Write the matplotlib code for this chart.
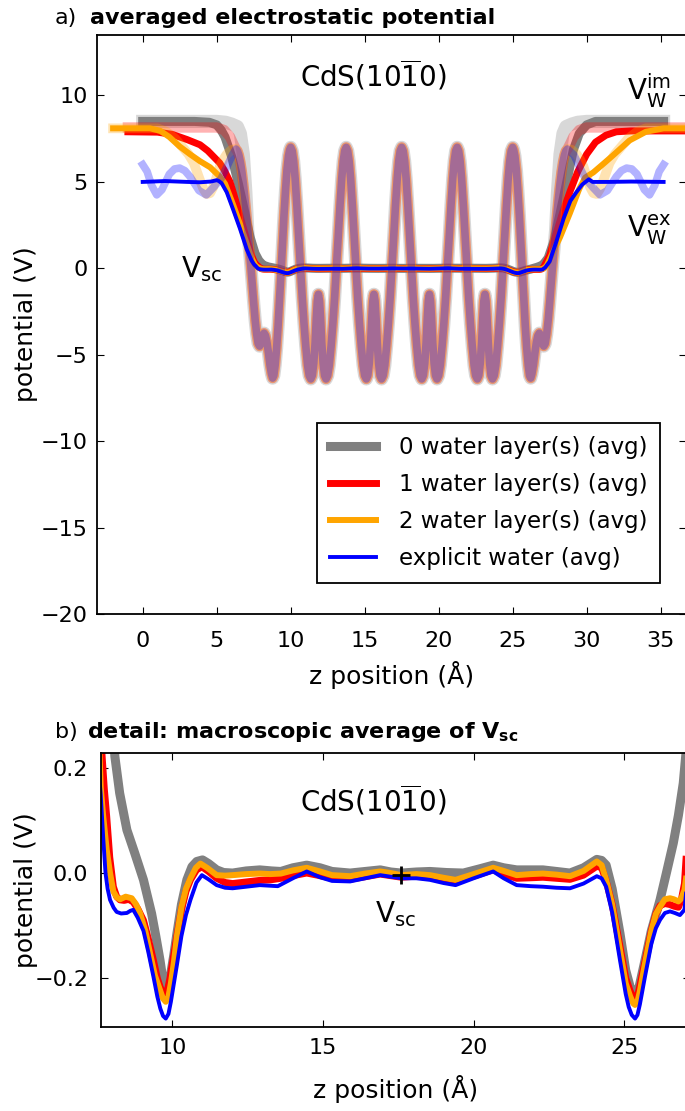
import numpy as np
import matplotlib.pyplot as plt

plt.rcParams['font.family'] = ['DejaVu Sans']
plt.rcParams['mathtext.fontset'] = 'dejavusans'
plt.rcParams['xtick.direction'] = 'in'
plt.rcParams['ytick.direction'] = 'in'
plt.rcParams['xtick.top'] = True
plt.rcParams['ytick.right'] = True
plt.rcParams['xtick.major.size'] = 5
plt.rcParams['ytick.major.size'] = 5
plt.rcParams['axes.linewidth'] = 1.3

# --- planar averaged potential inside the slab (same for all setups) ---
slab_z = [6.30, 6.40, 6.50, 6.60, 6.70, 6.80, 6.90, 7.00, 7.10, 7.20, 7.30, 7.40, 7.50, 7.60,
          7.70, 7.80, 7.90, 8.00, 8.10, 8.20, 8.30, 8.40, 8.50, 8.60, 8.70, 8.78, 8.86, 8.95,
          9.05, 9.15, 9.25, 9.35, 9.45, 9.55, 9.65, 9.75, 9.85, 9.93,
          10.00, 10.10, 10.20, 10.30, 10.42, 10.54, 10.66, 10.78, 10.90, 11.02, 11.14, 11.25,
          11.36, 11.46, 11.56, 11.65, 11.73, 11.80, 11.875, 11.95, 12.02, 12.10, 12.19, 12.29,
          12.39, 12.50, 12.61, 12.73, 12.85, 12.97, 13.09, 13.21, 13.33, 13.45, 13.55, 13.65,
          13.75, 13.85, 13.95, 14.05, 14.17, 14.29, 14.41, 14.53, 14.65, 14.77, 14.89, 15.00,
          15.11, 15.21, 15.31, 15.40, 15.48, 15.55, 15.625, 15.70, 15.77, 15.85, 15.94, 16.04,
          16.14, 16.25, 16.36, 16.48, 16.60, 16.72, 16.84, 16.96, 17.08, 17.20, 17.30, 17.40,
          17.50, 17.60, 17.70, 17.80, 17.92, 18.04, 18.16, 18.28, 18.40, 18.52, 18.64, 18.75,
          18.86, 18.96, 19.06, 19.15, 19.23, 19.30, 19.375, 19.45, 19.52, 19.60, 19.69, 19.79,
          19.89, 20.00, 20.11, 20.23, 20.35, 20.47, 20.59, 20.71, 20.83, 20.95, 21.05, 21.15,
          21.25, 21.35, 21.45, 21.55, 21.67, 21.79, 21.91, 22.03, 22.15, 22.27, 22.39, 22.50,
          22.61, 22.71, 22.81, 22.90, 22.98, 23.05, 23.125, 23.20, 23.27, 23.35, 23.44, 23.54,
          23.64, 23.75, 23.86, 23.98, 24.10, 24.22, 24.34, 24.46, 24.58, 24.70, 24.80, 24.90,
          25.00, 25.07, 25.15, 25.25, 25.35, 25.45, 25.55, 25.65, 25.75, 25.85, 25.95, 26.05,
          26.14, 26.22, 26.30, 26.40, 26.50, 26.60, 26.70, 26.80, 26.90, 27.00, 27.10, 27.20,
          27.30, 27.40, 27.50, 27.60, 27.70, 27.80, 27.90, 28.00, 28.10, 28.20, 28.30, 28.40,
          28.50, 28.60, 28.70]
slab_v = [6.9, 6.8, 6.55, 6.15, 5.6, 4.9, 4.1, 3.2, 2.2, 1.2, 0.2, -0.9, -2.0, -3.0,
          -3.8, -4.35, -4.5, -4.3, -3.9, -3.75, -3.9, -4.3, -4.9, -5.6, -6.1, -6.35, -6.2, -5.6,
          -4.6, -3.3, -1.8, -0.2, 1.5, 3.1, 4.5, 5.7, 6.5, 6.85,
          7.0, 6.8, 6.2, 5.2, 3.6, 1.8, 0.0, -1.7, -3.2, -4.5, -5.6, -6.2,
          -6.4, -6.2, -5.5, -4.3, -2.9, -1.9, -1.5, -1.9, -2.9, -4.3, -5.5, -6.2,
          -6.4, -6.2, -5.6, -4.5, -3.2, -1.7, 0.0, 1.8, 3.6, 5.2, 6.2, 6.8,
          7.0, 6.8, 6.2, 5.2, 3.6, 1.8, 0.0, -1.7, -3.2, -4.5, -5.6, -6.2,
          -6.4, -6.2, -5.5, -4.3, -2.9, -1.9, -1.5, -1.9, -2.9, -4.3, -5.5, -6.2,
          -6.4, -6.2, -5.6, -4.5, -3.2, -1.7, 0.0, 1.8, 3.6, 5.2, 6.2, 6.8,
          7.0, 6.8, 6.2, 5.2, 3.6, 1.8, 0.0, -1.7, -3.2, -4.5, -5.6, -6.2,
          -6.4, -6.2, -5.5, -4.3, -2.9, -1.9, -1.5, -1.9, -2.9, -4.3, -5.5, -6.2,
          -6.4, -6.2, -5.6, -4.5, -3.2, -1.7, 0.0, 1.8, 3.6, 5.2, 6.2, 6.8,
          7.0, 6.8, 6.2, 5.2, 3.6, 1.8, 0.0, -1.7, -3.2, -4.5, -5.6, -6.2,
          -6.4, -6.2, -5.5, -4.3, -2.9, -1.9, -1.5, -1.9, -2.9, -4.3, -5.5, -6.2,
          -6.4, -6.2, -5.6, -4.5, -3.2, -1.7, 0.0, 1.8, 3.6, 5.2, 6.2, 6.8,
          7.0, 6.85, 6.5, 5.7, 4.5, 3.1, 1.5, -0.2, -1.8, -3.3, -4.6, -5.6,
          -6.2, -6.35, -6.1, -5.6, -4.9, -4.3, -3.9, -3.75, -3.9, -4.3, -4.5, -4.35,
          -3.8, -3.0, -2.0, -0.9, 0.2, 1.2, 2.2, 3.2, 4.1, 4.9, 5.6, 6.15,
          6.55, 6.8, 6.9]

# --- planar averaged potential outside the slab (vacuum / water side) ---
raw0_left_z = [0.0, 5.0, 5.6, 6.0, 6.4, 6.6, 6.8, 6.97]
raw0_left_v = [8.5, 8.5, 8.45, 8.35, 8.2, 7.8, 6.6, 4.4]
raw0_right_z = [28.03, 28.2, 28.4, 28.6, 29.0, 29.4, 30.0, 35.2]
raw0_right_v = [4.4, 6.6, 7.8, 8.2, 8.35, 8.45, 8.5, 8.5]

raw1_left_z = [-1.0, 5.0, 5.5, 5.9, 6.12]
raw1_left_v = [8.15, 8.15, 8.0, 7.6, 7.2]
raw1_right_z = [28.88, 29.1, 29.5, 30.0, 37.0]
raw1_right_v = [7.2, 7.6, 8.0, 8.15, 8.15]

raw2_left_z = [-2.0, 1.0, 1.6, 2.2, 2.7, 3.1, 3.45, 3.87, 4.1, 4.32, 4.55, 4.77, 5.0, 5.22, 5.45,
               5.68, 6.0]
raw2_left_v = [8.1, 8.1, 7.9, 7.5, 7.0, 6.6, 6.1, 5.1, 4.6, 4.3, 4.35, 4.7, 5.3, 5.9, 6.3,
               6.6, 6.85]
raw2_right_z = [29.0, 29.32, 29.55, 29.78, 30.0, 30.23, 30.45, 30.68, 30.9, 31.13, 31.55, 31.9,
                32.3, 32.8, 33.4, 34.0, 37.0]
raw2_right_v = [6.85, 6.6, 6.3, 5.9, 5.3, 4.7, 4.35, 4.3, 4.6, 5.1, 6.1, 6.6,
                7.0, 7.5, 7.9, 8.1, 8.1]

rawx_left_z = [0.0, 0.3, 0.6, 0.95, 1.3, 1.8, 2.15, 2.5, 2.85, 3.2, 3.8, 4.3, 4.8, 5.3, 5.7, 6.05]
rawx_left_v = [6.0, 5.6, 4.8, 4.25, 4.55, 5.45, 5.75, 5.8, 5.65, 5.3, 4.5, 4.25, 4.7, 5.2, 5.9,
               6.55]
rawx_right_z = [29.15, 29.5, 29.9, 30.4, 30.9, 31.4, 32.0, 32.35, 32.7, 33.05, 33.4, 33.9, 34.25,
                34.6, 34.9, 35.2]
rawx_right_v = [6.55, 5.9, 5.2, 4.7, 4.25, 4.5, 5.3, 5.65, 5.8, 5.75, 5.45, 4.55, 4.25,
                4.8, 5.6, 6.0]

# --- macroscopic averages ---
avg0_z = [0.0, 3.5, 4.5, 5.0, 5.3, 5.56, 6.01, 6.46, 6.91, 7.25, 7.59, 7.85, 8.09, 8.25, 8.49,
          8.75, 9.04, 9.31, 9.45, 9.59, 9.69, 9.78, 9.87, 9.95, 10.05, 10.15, 10.3, 10.48, 10.65,
          10.81, 11.0, 11.2, 11.47, 11.7, 12.0, 12.45, 12.9, 13.3, 13.6, 14.0, 14.46, 14.9, 15.3,
          15.9, 16.4, 16.9, 17.25, 17.6, 18.1, 18.55, 19.1, 19.66, 20.2, 20.65, 21.0, 21.43, 22.3,
          22.75, 23.2, 23.65, 24.09, 24.25, 24.4, 24.6, 24.86, 25.05, 25.2, 25.36, 25.5, 25.69,
          25.9, 26.19, 26.4, 26.63, 26.8, 26.96, 27.1, 27.4, 27.8, 28.4, 29.1, 29.5, 30.0, 30.6,
          35.2]
avg0_v = [8.5, 8.5, 8.45, 8.3, 8.0, 7.6, 6.46, 4.92, 3.18, 1.83, 0.87, 0.45, 0.222, 0.152, 0.082,
          0.038, -0.013, -0.077, -0.12, -0.166, -0.205, -0.222, -0.21, -0.19, -0.155, -0.115,
          -0.06, -0.013, 0.012, 0.022, 0.025, 0.018, 0.006, 0.001, 0.0, 0.004, 0.006, 0.004, 0.003,
          0.01, 0.015, 0.01, 0.003, 0.0, 0.003, 0.006, 0.002, 0.0, 0.002, 0.003, 0.001, 0.0, 0.008,
          0.015, 0.01, 0.006, 0.006, 0.003, 0.0, 0.01, 0.026, 0.024, 0.015, -0.03, -0.115, -0.185,
          -0.217, -0.235, -0.215, -0.166, -0.11, -0.051, 0.0, 0.057, 0.11, 0.171, 0.26, 0.6, 1.6,
          3.95, 6.85, 7.8, 8.3, 8.5, 8.5]

avg1_z = [-1.0, 1.0, 2.0, 3.0, 3.87, 4.4, 4.8, 5.2, 5.5, 5.9, 6.15, 6.57, 7.03, 7.35, 7.55, 7.66,
          7.74, 7.82, 7.92, 8.04, 8.15, 8.26, 8.4, 8.55, 8.7, 8.85, 9.04, 9.2, 9.37, 9.5, 9.6,
          9.68, 9.76, 9.84, 9.92, 10.02, 10.15, 10.3, 10.45, 10.6, 10.8, 10.98, 11.2, 11.47, 11.75,
          12.0, 12.45, 12.9, 13.25, 13.6, 14.0, 14.46, 14.9, 15.3, 15.9, 16.4, 16.9, 17.25, 17.6,
          18.1, 18.55, 19.0, 19.4, 20.0, 20.65, 21.0, 21.43, 21.9, 22.3, 22.75, 23.2, 23.65, 24.09,
          24.25, 24.4, 24.6, 24.86, 25.05, 25.2, 25.3, 25.36, 25.44, 25.52, 25.69, 25.9, 26.05,
          26.19, 26.35, 26.52, 26.65, 26.8, 26.9, 27.0, 27.1, 27.2, 27.5, 27.9, 28.4, 28.9, 29.4,
          30.0, 30.6, 31.3, 32.0, 33.0, 37.0]
avg1_v = [7.9, 7.88, 7.75, 7.45, 7.15, 6.8, 6.45, 6.1, 5.7, 5.0, 4.3, 3.05, 1.65, 0.75, 0.35, 0.228,
          0.16, 0.107, 0.03, -0.026, -0.045, -0.051, -0.052, -0.05, -0.055, -0.068, -0.09, -0.125,
          -0.166, -0.2, -0.218, -0.227, -0.229, -0.222, -0.2, -0.165, -0.12, -0.07, -0.035, -0.013,
          0.006, 0.012, 0.003, -0.01, -0.018, -0.02, -0.017, -0.014, -0.013, -0.01, -0.005, 0.0,
          -0.005, -0.01, -0.012, -0.007, -0.002, -0.005, -0.008, -0.006, -0.008, -0.012, -0.016,
          -0.006, 0.006, -0.002, -0.01, -0.009, -0.008, -0.01, -0.012, -0.004, 0.013, 0.01, -0.015,
          -0.06, -0.14, -0.2, -0.225, -0.237, -0.24, -0.235, -0.215, -0.168, -0.11, -0.078, -0.062,
          -0.058, -0.06, -0.063, -0.065, -0.05, -0.02, 0.07, 0.25, 0.75, 1.9, 3.3, 4.5, 5.6, 6.6,
          7.3, 7.7, 7.9, 7.95, 7.95]

avg2_z = [-2.0, 0.5, 1.2, 1.8, 2.5, 3.2, 3.87, 4.55, 5.22, 5.56, 6.1, 6.6, 7.0, 7.35, 7.62, 7.7,
          7.82, 7.93, 8.04, 8.15, 8.26, 8.45, 8.65, 8.8, 8.93, 9.1, 9.26, 9.42, 9.59, 9.68, 9.78,
          9.87, 9.95, 10.05, 10.15, 10.3, 10.45, 10.6, 10.78, 10.93, 11.15, 11.47, 11.75, 12.0,
          12.45, 12.9, 13.25, 13.6, 14.0, 14.46, 14.9, 15.3, 15.9, 16.4, 16.9, 17.25, 17.6, 18.1,
          18.55, 19.0, 19.4, 20.0, 20.65, 21.0, 21.43, 21.9, 22.3, 22.75, 23.2, 23.65, 24.09, 24.25,
          24.4, 24.6, 24.86, 25.05, 25.2, 25.3, 25.36, 25.44, 25.52, 25.69, 25.9, 26.05, 26.19,
          26.35, 26.52, 26.65, 26.8, 26.9, 27.0, 27.15, 27.3, 27.7, 28.2, 28.87, 29.5, 29.9, 30.45,
          31.2, 31.8, 32.9, 34.0, 35.2, 37.0]
avg2_v = [8.1, 8.1, 7.95, 7.6, 7.05, 6.6, 6.2, 5.85, 5.3, 4.9, 3.7, 2.5, 1.5, 0.6, 0.164, 0.11,
          0.044, 0.0, -0.035, -0.046, -0.05, -0.045, -0.048, -0.06, -0.077, -0.11, -0.153, -0.195,
          -0.223, -0.238, -0.245, -0.235, -0.21, -0.17, -0.12, -0.065, -0.03, -0.01, 0.01, 0.018,
          0.01, -0.004, -0.005, -0.004, -0.002, -0.001, -0.002, -0.001, 0.005, 0.01, 0.003, -0.004,
          -0.006, -0.001, 0.003, 0.0, -0.004, -0.002, -0.004, -0.009, -0.013, -0.002, 0.01, 0.004,
          -0.004, -0.002, -0.001, -0.003, -0.006, 0.004, 0.022, 0.015, -0.013, -0.06, -0.147,
          -0.21, -0.235, -0.248, -0.251, -0.245, -0.225, -0.172, -0.11, -0.078, -0.064, -0.05,
          -0.048, -0.05, -0.054, -0.048, -0.032, 0.03, 0.15, 0.9, 1.8, 3.2, 4.6, 5.25, 5.55, 6.1,
          6.55, 7.4, 7.9, 8.1, 8.1]

avgx_z = [0.0, 1.5, 3.0, 3.87, 4.6, 5.0, 5.15, 5.34, 5.68, 6.12, 6.57, 7.03, 7.36, 7.55, 7.62, 7.7,
          7.78, 7.85, 7.93, 8.05, 8.15, 8.3, 8.49, 8.6, 8.7, 8.85, 9.04, 9.2, 9.37, 9.5, 9.6, 9.69,
          9.78, 9.87, 9.95, 10.05, 10.15, 10.3, 10.45, 10.6, 10.8, 10.98, 11.2, 11.47, 11.75, 12.0,
          12.45, 12.9, 13.2, 13.5, 14.0, 14.46, 14.9, 15.3, 15.9, 16.4, 16.9, 17.25, 17.6, 18.1,
          18.55, 19.0, 19.4, 20.0, 20.65, 21.0, 21.43, 21.9, 22.3, 22.75, 23.2, 23.65, 24.09, 24.25,
          24.4, 24.6, 24.86, 25.05, 25.15, 25.25, 25.36, 25.44, 25.52, 25.69, 25.9, 26.05, 26.19,
          26.35, 26.52, 26.68, 26.85, 27.0, 27.2, 27.5, 27.97, 28.45, 28.9, 29.3, 29.7, 30.0, 30.15,
          30.4, 31.5, 33.0, 35.2]
avgx_v = [5.0, 5.05, 5.0, 4.98, 5.02, 5.1, 5.05, 4.92, 4.4, 3.38, 2.3, 1.1, 0.45, 0.2, 0.15, 0.07,
          0.0, -0.03, -0.051, -0.066, -0.074, -0.077, -0.076, -0.072, -0.07, -0.085, -0.11, -0.15,
          -0.197, -0.235, -0.258, -0.272, -0.277, -0.268, -0.245, -0.21, -0.175, -0.12, -0.08,
          -0.051, -0.018, -0.004, -0.012, -0.023, -0.028, -0.029, -0.026, -0.023, -0.024, -0.025,
          -0.01, 0.003, -0.008, -0.015, -0.016, -0.01, -0.004, -0.007, -0.01, -0.01, -0.013, -0.019,
          -0.023, -0.01, 0.003, -0.01, -0.023, -0.025, -0.026, -0.028, -0.029, -0.02, -0.006, -0.01,
          -0.026, -0.075, -0.166, -0.23, -0.255, -0.27, -0.277, -0.27, -0.25, -0.197, -0.135,
          -0.105, -0.089, -0.076, -0.073, -0.076, -0.08, -0.07, 0.05, 0.4, 1.6, 2.9, 3.9, 4.4, 4.85,
          5.05, 5.15, 5.0, 5.0, 5.02, 5.0]

vsc_z = [17.6]
vsc_v = [-0.004]

labels = ['0 water layer(s) (avg)', '1 water layer(s) (avg)',
          '2 water layer(s) (avg)', 'explicit water (avg)']
colors = ['gray', 'red', 'orange', 'blue']
lw_avg = [6.5, 5.0, 4.3, 2.8]
lw_raw = [9.5, 7.5, 7.0, 5.5]

sz = np.array(slab_z)
sv = np.array(slab_v)
inner = (sz >= 7.1) & (sz <= 27.9)

raw_curves = [
    (np.r_[raw0_left_z, sz[inner], raw0_right_z], np.r_[raw0_left_v, sv[inner], raw0_right_v]),
    (np.r_[raw1_left_z, sz, raw1_right_z], np.r_[raw1_left_v, sv, raw1_right_v]),
    (np.r_[raw2_left_z, sz, raw2_right_z], np.r_[raw2_left_v, sv, raw2_right_v]),
    (np.r_[rawx_left_z, sz, rawx_right_z], np.r_[rawx_left_v, sv, rawx_right_v]),
]
avg_curves = [(avg0_z, avg0_v), (avg1_z, avg1_v), (avg2_z, avg2_v), (avgx_z, avgx_v)]

fig = plt.figure(figsize=(6.85, 11.11), dpi=100)
ax1 = fig.add_axes([0.1420, 0.4473, 0.8594, 0.5212])
ax2 = fig.add_axes([0.1470, 0.0756, 0.861, 0.2469])

# a) full profile
for i in range(4):
    rz, rv = raw_curves[i]
    ax1.plot(rz, rv, color=colors[i], lw=lw_raw[i], alpha=0.3)
    az, av = avg_curves[i]
    ax1.plot(az, av, color=colors[i], lw=lw_avg[i], label=labels[i])

ax1.set_xlim(-3.07, 36.71)
ax1.set_ylim(-20, 13.5)
ax1.set_xticks([0, 5, 10, 15, 20, 25, 30, 35])
ax1.set_yticks([-20, -15, -10, -5, 0, 5, 10])
ax1.tick_params(axis='x', labelsize=16, pad=12)
ax1.tick_params(axis='y', labelsize=16, pad=7)
ax1.set_xlabel('z position (Å)', fontsize=18)
ax1.set_ylabel('potential (V)', fontsize=18)
ax1.xaxis.set_label_coords(0.5, -0.081)
ax1.yaxis.set_label_coords(-0.101, 0.5)

ax1.text(15.56, 11.2, r'CdS(10$\overline{1}$0)', fontsize=20, ha='center', va='center')
ax1.text(2.59, -0.5, r'$\mathrm{V_{sc}}$', fontsize=20, ha='left', va='baseline')
ax1.text(32.72, 9.75, r'$\mathrm{V_W^{im}}$', fontsize=20, ha='left', va='baseline')
ax1.text(32.72, 1.83, r'$\mathrm{V_W^{ex}}$', fontsize=20, ha='left', va='baseline')

leg = ax1.legend(loc='lower right', bbox_to_anchor=(0.956, 0.0535), borderaxespad=0,
                 fontsize=16.5, fancybox=False, framealpha=1, edgecolor='black',
                 borderpad=0.55, handlelength=2.0, handletextpad=1.0, labelspacing=0.62)
leg.get_frame().set_linewidth(1.3)

# b) detail of the slab region
for i in range(4):
    az, av = avg_curves[i]
    ax2.plot(az, av, color=colors[i], lw=lw_avg[i])
ax2.plot(vsc_z, vsc_v, marker='+', color='black', ms=13, mew=2, ls='none')

ax2.set_xlim(7.62, 27.2)
ax2.set_ylim(-0.293, 0.229)
ax2.set_xticks([10, 15, 20, 25])
ax2.set_yticks([-0.2, 0.0, 0.2])
ax2.tick_params(axis='x', labelsize=16, pad=8)
ax2.tick_params(axis='y', labelsize=16, pad=9)
ax2.set_xlabel('z position (Å)', fontsize=18)
ax2.set_ylabel('potential (V)', fontsize=18)
ax2.xaxis.set_label_coords(0.5, -0.175)
ax2.yaxis.set_label_coords(-0.106, 0.5)

ax2.text(16.66, 0.139, r'CdS(10$\overline{1}$0)', fontsize=20, ha='center', va='center')
ax2.text(16.73, -0.093, r'$\mathrm{V_{sc}}$', fontsize=20, ha='left', va='baseline')

# panel titles
fig.text(55 / 685, 1 - 24 / 1111, 'a)', fontsize=16, va='baseline')
fig.text(90 / 685, 1 - 24 / 1111, 'averaged electrostatic potential', fontsize=16,
         fontweight='bold', va='baseline')
fig.text(55 / 685, 1 - 738 / 1111, 'b)', fontsize=16, va='baseline')
fig.text(87 / 685, 1 - 738 / 1111, r'detail: macroscopic average of $\mathbf{V_{sc}}$',
         fontsize=16, fontweight='bold', va='baseline')

fig.savefig('out.png', dpi=100)
